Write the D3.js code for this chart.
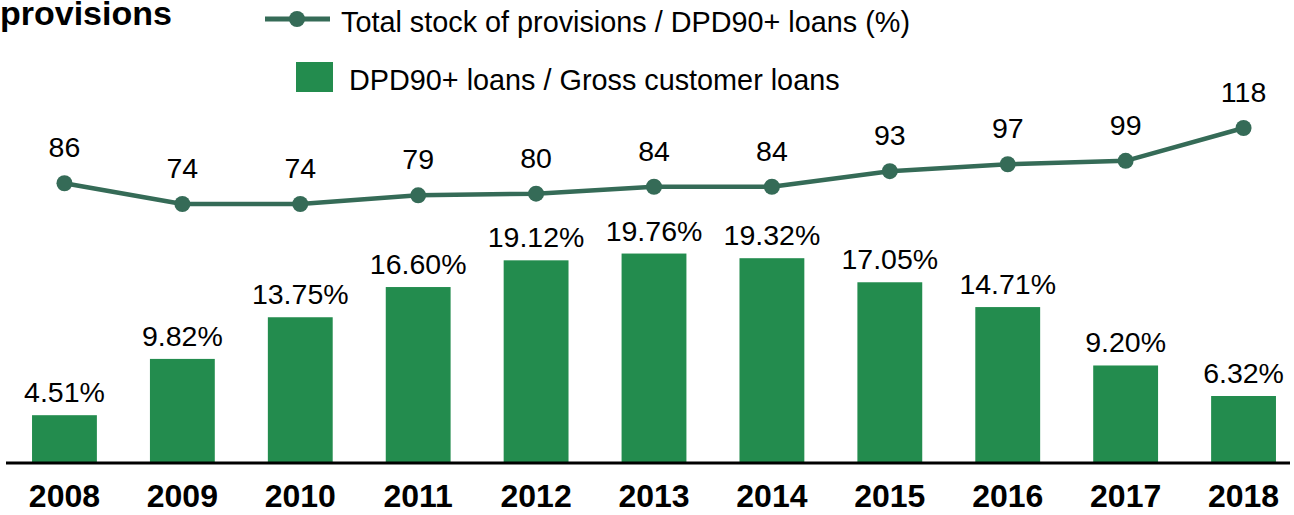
<!DOCTYPE html>
<html>
<head>
<meta charset="utf-8">
<script src="https://cdn.jsdelivr.net/npm/d3@7"></script>
<style>
  html, body { margin: 0; padding: 0; background: #fff; }
  svg { display: block; font-family: "Liberation Sans", Arial, sans-serif; }
</style>
</head>
<body>
<svg id="chart" width="1294" height="515"></svg>
<script>
// Data
const years = ["2008","2009","2010","2011","2012","2013","2014","2015","2016","2017","2018"];
const dpdRatio = [4.51, 9.82, 13.75, 16.60, 19.12, 19.76, 19.32, 17.05, 14.71, 9.20, 6.32];
const coverage = [86, 74, 74, 79, 80, 84, 84, 93, 97, 99, 118];
const lineLegend = "Total stock of provisions / DPD90+ loans (%)";
const barLegend = "DPD90+ loans / Gross customer loans";
const title = "provisions";

const barColor = "#238c4e";
const lineColor = "#356b57";

const svg = d3.select("#chart");

const x = d3.scaleBand().domain(years).range([5.5, 1302.5]).paddingInner(0.45).paddingOuter(0.225);
const yBar = d3.scaleLinear().domain([0, 20]).range([463, 251]);
const yLine = d3.scaleLinear().domain([0, 118]).range([331.8, 128]);

// Bars
svg.append("g").selectAll("rect").data(years).join("rect")
  .attr("x", d => x(d))
  .attr("width", x.bandwidth())
  .attr("y", (d, i) => yBar(dpdRatio[i]))
  .attr("height", (d, i) => yBar(0) - yBar(dpdRatio[i]))
  .attr("fill", barColor);

// Bar value labels
svg.append("g").selectAll("text").data(years).join("text")
  .attr("x", d => x(d) + x.bandwidth() / 2)
  .attr("y", (d, i) => yBar(dpdRatio[i]) - 13)
  .attr("text-anchor", "middle")
  .attr("font-size", 28.5)
  .attr("fill", "#000")
  .text((d, i) => dpdRatio[i].toFixed(2) + "%");

// Baseline axis
const xAxis = d3.axisBottom(x).tickSize(0).tickPadding(21);
const axisG = svg.append("g").attr("transform", `translate(0,${yBar(0)})`).call(xAxis);
axisG.select(".domain").remove();
axisG.append("line")
  .attr("x1", 6).attr("x2", 1290).attr("y1", 0).attr("y2", 0)
  .attr("stroke", "#000").attr("stroke-width", 3);
axisG.selectAll(".tick text")
  .attr("font-size", 32).attr("font-weight", "bold")
  .attr("font-family", "'Liberation Sans', Arial, sans-serif")
  .attr("fill", "#000");

// Coverage line
const cx = d => x(d) + x.bandwidth() / 2;
const line = d3.line().x(d => cx(d)).y((d, i) => yLine(coverage[i]));
svg.append("path").datum(years)
  .attr("d", line)
  .attr("fill", "none")
  .attr("stroke", lineColor)
  .attr("stroke-width", 4.5)
  .attr("stroke-linejoin", "round");

svg.append("g").selectAll("circle").data(years).join("circle")
  .attr("cx", cx)
  .attr("cy", (d, i) => yLine(coverage[i]))
  .attr("r", 8)
  .attr("fill", lineColor);

svg.append("g").selectAll("text").data(years).join("text")
  .attr("x", cx)
  .attr("y", (d, i) => yLine(coverage[i]) - 26)
  .attr("text-anchor", "middle")
  .attr("font-size", 28.5)
  .attr("fill", "#000")
  .text((d, i) => coverage[i]);

// Legend
const leg = svg.append("g");
leg.append("line").attr("x1", 265).attr("x2", 330).attr("y1", 19).attr("y2", 19)
  .attr("stroke", lineColor).attr("stroke-width", 5);
leg.append("circle").attr("cx", 297).attr("cy", 19).attr("r", 8).attr("fill", lineColor);
leg.append("text").attr("x", 341).attr("y", 32).attr("font-size", 28.8).text(lineLegend);
leg.append("rect").attr("x", 296).attr("y", 62).attr("width", 37).attr("height", 30).attr("fill", barColor);
leg.append("text").attr("x", 349).attr("y", 90).attr("font-size", 28.8).text(barLegend);

// Title fragment
svg.append("text").attr("x", 0).attr("y", 25)
  .attr("font-size", 34).attr("font-weight", "bold").text(title);
</script>
</body>
</html>
